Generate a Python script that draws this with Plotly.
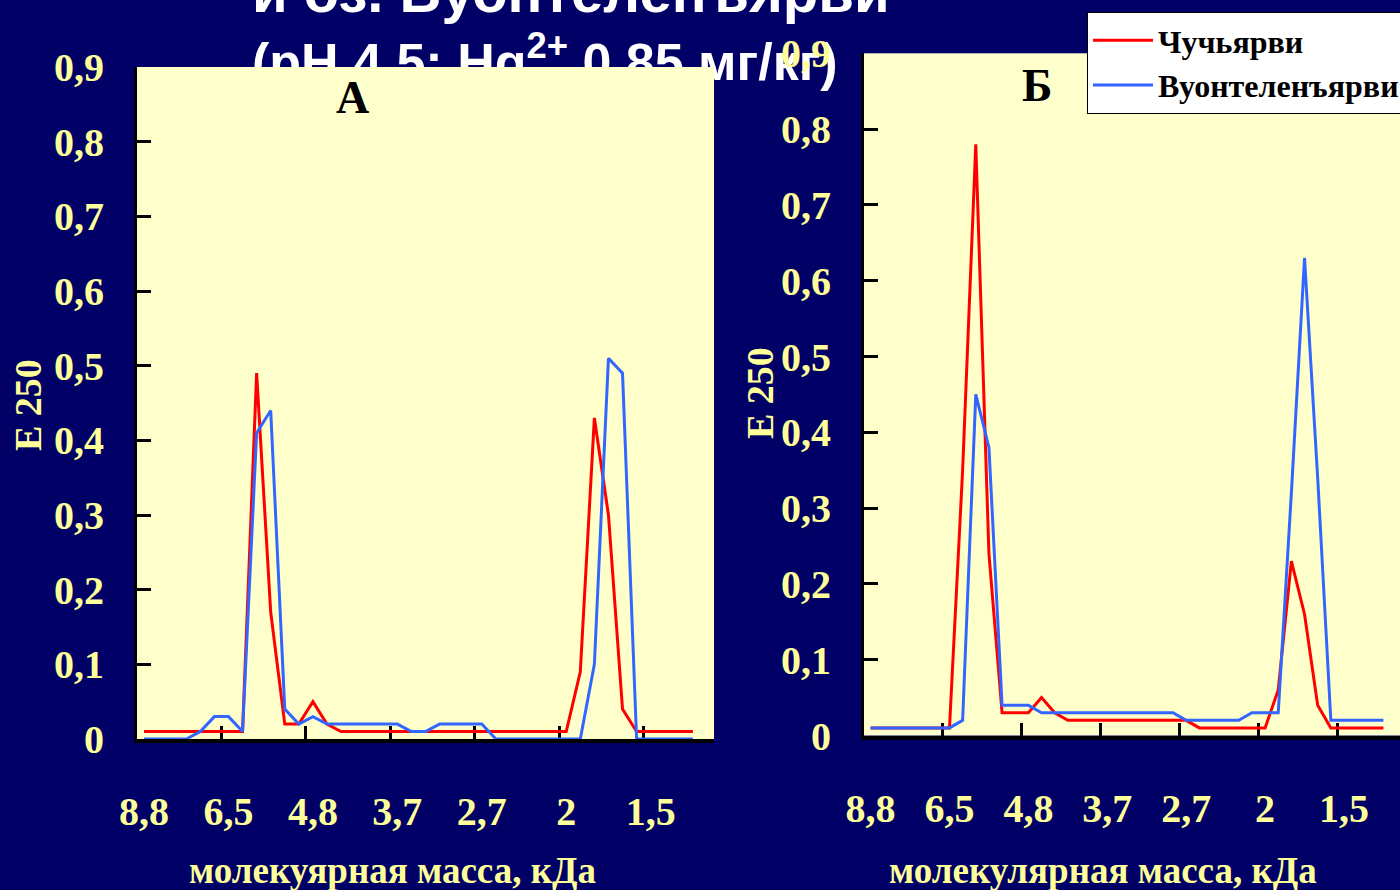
import plotly.graph_objects as go

# ---------------- data ----------------
mass_labels = ["8,8", "6,5", "4,8", "3,7", "2,7", "2", "1,5"]
label_positions = [0, 6, 12, 18, 24, 30, 36]
n_categories = 41
fraction_index = list(range(40))

# Panel A
a_chuchyarvi = [0.01, 0.01, 0.01, 0.01, 0.01, 0.01, 0.01, 0.01, 0.49, 0.17,
                0.02, 0.02, 0.05, 0.02, 0.01, 0.01, 0.01, 0.01, 0.01, 0.01,
                0.01, 0.01, 0.01, 0.01, 0.01, 0.01, 0.01, 0.01, 0.01, 0.01,
                0.01, 0.09, 0.43, 0.30, 0.04, 0.01, 0.01, 0.01, 0.01, 0.01]
a_vuontelen = [0.00, 0.00, 0.00, 0.00, 0.01, 0.03, 0.03, 0.01, 0.41, 0.44,
               0.04, 0.02, 0.03, 0.02, 0.02, 0.02, 0.02, 0.02, 0.02, 0.01,
               0.01, 0.02, 0.02, 0.02, 0.02, 0.00, 0.00, 0.00, 0.00, 0.00,
               0.00, 0.00, 0.10, 0.51, 0.49, 0.00, 0.00, 0.00, 0.00, 0.00]

# Panel B
b_chuchyarvi = [0.01, 0.01, 0.01, 0.01, 0.01, 0.01, 0.01, 0.35, 0.78, 0.24,
                0.03, 0.03, 0.03, 0.05, 0.03, 0.02, 0.02, 0.02, 0.02, 0.02,
                0.02, 0.02, 0.02, 0.02, 0.02, 0.01, 0.01, 0.01, 0.01, 0.01,
                0.01, 0.06, 0.23, 0.16, 0.04, 0.01, 0.01, 0.01, 0.01, 0.01]
b_vuontelen = [0.01, 0.01, 0.01, 0.01, 0.01, 0.01, 0.01, 0.02, 0.45, 0.38,
               0.04, 0.04, 0.04, 0.03, 0.03, 0.03, 0.03, 0.03, 0.03, 0.03,
               0.03, 0.03, 0.03, 0.03, 0.02, 0.02, 0.02, 0.02, 0.02, 0.03,
               0.03, 0.03, 0.32, 0.63, 0.34, 0.02, 0.02, 0.02, 0.02, 0.02]

y_tick_values = [0, 0.1, 0.2, 0.3, 0.4, 0.5, 0.6, 0.7, 0.8, 0.9]
y_tick_labels = ["0", "0,1", "0,2", "0,3", "0,4", "0,5", "0,6", "0,7", "0,8", "0,9"]

series_names = ["Чучьярви", "Вуонтеленъярви"]
title_lines = ["<span style='font-size:58px'>и оз. Вуонтеленъярви</span>",
               "(pH 4,5; Hg<sup>2+</sup> 0,85 мг/кг)"]

# ---------------- style ----------------
W, H = 1400, 890
NAVY = "#000066"
PLOT_BG = "#FFFFCC"
LABEL_YELLOW = "#FFFF99"
RED = "#FF0000"
BLUE = "#3366FF"
SERIF = "Liberation Serif"
SANS = "Liberation Sans"


def px_x(p):
    return p / W


def px_y(p):
    return 1 - p / H


boundaries = [p - 0.5 for p in label_positions[1:]]

fig = go.Figure()

# Title text lives in a tiny hidden subplot (inside panel A) placed first,
# so panel A's background is painted over the lower part of the title.
title_box = dict(x0=210, x1=560, y0=80, y1=120)   # pixel box of the hidden subplot
fig.add_trace(go.Scatter(
    x=[252], y=[93], mode="text",
    text=["<br>".join(title_lines)],
    textposition="top right",
    textfont=dict(family=SANS, size=52, color="white", weight="bold"),
    cliponaxis=False, showlegend=False, hoverinfo="skip",
    xaxis="x", yaxis="y",
))

colors = [RED, BLUE]
for axes, series, show in ((("x2", "y2"), [a_chuchyarvi, a_vuontelen], True),
                           (("x3", "y3"), [b_chuchyarvi, b_vuontelen], False)):
    for name, vals, col in zip(series_names, series, colors):
        fig.add_trace(go.Scatter(
            x=fraction_index, y=vals, mode="lines", name=name,
            line=dict(color=col, width=3),
            xaxis=axes[0], yaxis=axes[1], showlegend=show,
            legendgroup=name, hoverinfo="x+y",
        ))

tick_font = dict(family=SERIF, size=40, color=LABEL_YELLOW, weight="bold")


def x_axis(domain, rng, anchor):
    return dict(
        domain=domain, range=rng, anchor=anchor, automargin=False,
        tickmode="array", tickvals=label_positions, ticktext=mass_labels,
        ticks="", showgrid=False, zeroline=False,
        showline=True, linecolor="black", linewidth=4,
        tickfont=tick_font, ticklabelstandoff=34,
        layer="below traces",
        minor=dict(tickmode="array", tickvals=boundaries, ticks="inside",
                   ticklen=13, tickwidth=3, tickcolor="black", showgrid=False),
        fixedrange=True,
    )


def y_axis(domain, anchor):
    return dict(
        domain=domain, range=[0, 0.9], anchor=anchor, automargin=False,
        tickmode="array", tickvals=y_tick_values, ticktext=y_tick_labels,
        ticks="inside", ticklen=14, tickwidth=3, tickcolor="black",
        showgrid=False, zeroline=False,
        showline=True, linecolor="black", linewidth=3,
        tickfont=tick_font, ticklabelstandoff=22,
        layer="below traces", fixedrange=True,
    )


a_x0, a_x1, a_y0, a_y1 = 137, 714, 739, 67
b_x0, b_y0, b_y1 = 864, 735.5, 53.3
b_cat_width = 13.15
b_range_end = -0.5 + (W - b_x0) / b_cat_width

fig.update_layout(
    width=W, height=H,
    paper_bgcolor=NAVY, plot_bgcolor=PLOT_BG,
    margin=dict(l=0, r=0, t=0, b=0, pad=0, autoexpand=False),
    xaxis=dict(domain=[px_x(title_box["x0"]), px_x(title_box["x1"])],
               range=[title_box["x0"], title_box["x1"]],
               visible=False, fixedrange=True, automargin=False),
    yaxis=dict(domain=[px_y(title_box["y1"]), px_y(title_box["y0"])],
               range=[title_box["y1"], title_box["y0"]],
               visible=False, fixedrange=True, automargin=False),
    xaxis2=x_axis([px_x(a_x0), px_x(a_x1)], [-0.5, n_categories - 0.5], "y2"),
    yaxis2=y_axis([px_y(a_y0), px_y(a_y1)], "x2"),
    xaxis3=x_axis([px_x(b_x0), 1.0], [-0.5, b_range_end], "y3"),
    yaxis3=y_axis([px_y(b_y0), px_y(b_y1)], "x3"),
    legend=dict(
        x=px_x(1087), y=px_y(12), xanchor="left", yanchor="top",
        bgcolor="white", bordercolor="black", borderwidth=1,
        font=dict(family=SERIF, size=32, color="black", weight="bold"),
        itemwidth=60, tracegroupgap=0,
    ),
    showlegend=True,
)

ann_font = dict(family=SERIF, color=LABEL_YELLOW, weight="bold")
annotations = [
    dict(x=px_x(28), y=px_y(405), text="E 250", textangle=-90,
         font=dict(ann_font, size=38)),
    dict(x=px_x(760), y=px_y(393), text="E 250", textangle=-90,
         font=dict(ann_font, size=38)),
    dict(x=px_x(392), y=px_y(870), text="молекуярная масса, кДа",
         font=dict(ann_font, size=37)),
    dict(x=px_x(1103), y=px_y(870), text="молекулярная масса, кДа",
         font=dict(ann_font, size=37)),
    dict(x=px_x(352), y=px_y(97), text="А",
         font=dict(family=SERIF, size=46, color="black", weight="bold")),
    dict(x=px_x(1037), y=px_y(85), text="Б",
         font=dict(family=SERIF, size=46, color="black", weight="bold")),
]
for a in annotations:
    a.update(xref="paper", yref="paper", showarrow=False,
             xanchor="center", yanchor="middle")
fig.update_layout(annotations=annotations)

fig.write_html("out.html", config={"displayModeBar": False},
               post_script="document.body.style.margin='0';")
